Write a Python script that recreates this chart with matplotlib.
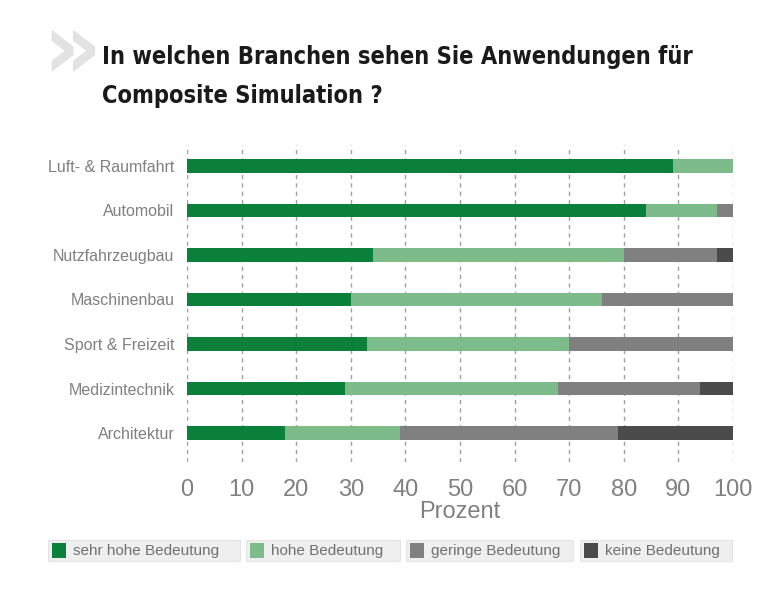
import matplotlib
matplotlib.use("Agg")
import matplotlib.pyplot as plt
from matplotlib.patches import Rectangle
from matplotlib import font_manager as fm
import numpy as np

categories = ["Luft- & Raumfahrt", "Automobil", "Nutzfahrzeugbau", "Maschinenbau",
              "Sport & Freizeit", "Medizintechnik", "Architektur"]
sehr_hoch = [89, 84, 34, 30, 33, 29, 18]
hoch = [11, 13, 46, 46, 37, 39, 21]
gering = [0, 3, 17, 24, 30, 26, 40]
keine = [0, 0, 3, 0, 0, 6, 21]
series_names = ["sehr hohe Bedeutung", "hohe Bedeutung", "geringe Bedeutung", "keine Bedeutung"]
series_colors = ["#0b803a", "#7dbb8a", "#808080", "#4b4b4b"]
xticks = [0, 10, 20, 30, 40, 50, 60, 70, 80, 90, 100]
title_lines = ["In welchen Branchen sehen Sie Anwendungen für", "Composite Simulation ?"]
xlabel = "Prozent"

W, H = 780, 600
fig = plt.figure(figsize=(W / 100, H / 100), dpi=100)
fig.patch.set_facecolor("white")

def fx(px):
    return px / W

def fy(py):
    return 1 - py / H

# find a condensed bold font file for the title
cands = []
for f in fm.findSystemFonts():
    name = f.split("/")[-1].lower()
    if ("condensed-bold" in name or "narrow-bold" in name or "condensedbold" in name) and "oblique" not in name and "italic" not in name:
        cands.append(f)
cands.sort(key=lambda s: (0 if "dejavusanscondensed-bold" in s.lower() else 1, s))
if cands:
    title_fp = fm.FontProperties(fname=cands[0])
else:
    title_fp = fm.FontProperties(family="DejaVu Sans", weight="bold", stretch="condensed")

ax = fig.add_axes([fx(187), fy(462), fx(733) - fx(187), fy(145) - fy(462)])
y = np.arange(len(categories))
left = np.zeros(len(categories))
for vals, col, name in zip([sehr_hoch, hoch, gering, keine], series_colors, series_names):
    ax.barh(y, vals, left=left, height=0.3, color=col, label=name, zorder=2)
    left = left + np.array(vals)

ax.set_xlim(0, 100)
ax.set_ylim(6.65, -0.47)
ax.set_axisbelow(True)
ax.xaxis.grid(True, linestyle=(0, (3, 3)), color="#a0a0a0", linewidth=1)
ax.set_xticks(xticks)
ax.set_xticklabels([str(t) for t in xticks])
ax.set_yticks(y)
ax.set_yticklabels(categories)
for s in ax.spines.values():
    s.set_visible(False)
ax.tick_params(axis="both", length=0)
ax.tick_params(axis="x", pad=12, labelsize=17, labelcolor="#808080")
ax.tick_params(axis="y", pad=9, labelsize=11.5, labelcolor="#808080")
for lab in ax.get_xticklabels() + ax.get_yticklabels():
    lab.set_fontfamily("Liberation Sans")
ax.set_xlabel(xlabel, fontsize=17, color="#808080", fontfamily="Liberation Sans", labelpad=0)

# title, two lines, sized to fit width
t1 = fig.text(fx(102), fy(64), title_lines[0], ha="left", va="baseline",
              fontproperties=title_fp, fontsize=22, color="#1a1a1a")
t2 = fig.text(fx(102), fy(103), title_lines[1], ha="left", va="baseline",
              fontproperties=title_fp, fontsize=22, color="#1a1a1a")
fig.canvas.draw()
r = fig.canvas.get_renderer()
bb = t1.get_window_extent(renderer=r)
target = 590
if bb.width > 0:
    fs = 22 * target / bb.width
    t1.set_fontsize(fs)
    t2.set_fontsize(fs)

fig.text(fx(42), fy(51), "»", ha="left", va="center", fontsize=66, fontweight="bold",
         color="#e2e2e2", fontfamily="DejaVu Sans")

# legend boxes
boxes = [(48, 240), (246, 400), (406, 573), (580, 732)]
for (x0, x1), name, col in zip(boxes, series_names, series_colors):
    fig.patches.append(Rectangle((fx(x0), fy(561)), fx(x1) - fx(x0), fy(540) - fy(561),
                                 transform=fig.transFigure, facecolor="#efefef",
                                 edgecolor="#e4e4e4", linewidth=0.8))
    fig.patches.append(Rectangle((fx(x0 + 4), fy(558)), fx(14), fy(543) - fy(558),
                                 transform=fig.transFigure, facecolor=col, edgecolor="none"))
    fig.text(fx(x0 + 25), fy(551), name, ha="left", va="center", fontsize=11,
             color="#707070", fontfamily="Liberation Sans")

fig.savefig("out.png", dpi=100)
